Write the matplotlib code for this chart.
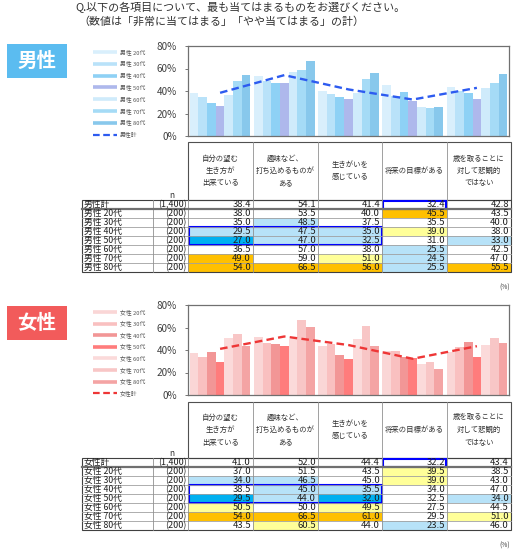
import numpy as np
import matplotlib
matplotlib.use("Agg")
import matplotlib.pyplot as plt
from matplotlib.patches import Rectangle

plt.rcParams['font.family'] = ['Noto Sans CJK JP', 'DejaVu Sans']

W, H = 517, 557

# ---------------------------------------------------------------------------
# data
# ---------------------------------------------------------------------------
items = ["自分の望む\n生き方が\n出来ている",
         "趣味など、\n打ち込めるものが\nある",
         "生きがいを\n感じている",
         "将来の目標がある",
         "歳を取ることに\n対して悲観的\nではない"]
ages = ["20代", "30代", "40代", "50代", "60代", "70代", "80代"]
n_total = "(1,400)"
n_age = "(200)"

male_total = [38.4, 54.1, 41.4, 32.4, 42.8]
male_ages = [[38.0, 53.5, 40.0, 45.5, 43.5],
             [35.0, 48.5, 37.5, 35.5, 40.0],
             [29.5, 47.5, 35.0, 39.0, 38.0],
             [27.0, 47.0, 32.5, 31.0, 33.0],
             [36.5, 57.0, 38.0, 25.5, 42.5],
             [49.0, 59.0, 51.0, 24.5, 47.0],
             [54.0, 66.5, 56.0, 25.5, 55.5]]

female_total = [41.0, 52.0, 44.4, 32.2, 43.4]
female_ages = [[37.0, 51.5, 43.5, 39.5, 38.5],
               [34.0, 46.5, 45.0, 39.0, 43.0],
               [38.5, 45.0, 35.5, 34.0, 47.0],
               [29.5, 44.0, 32.0, 32.5, 34.0],
               [50.5, 50.0, 49.5, 27.5, 44.5],
               [54.0, 66.5, 61.0, 29.5, 51.0],
               [43.5, 60.5, 44.0, 23.5, 46.0]]

# cell highlight codes: o=orange, y=yellow, b=light blue, B=strong blue
male_marks = ["-----", "---o-", "-b---", "bbby-", "Bbb-b", "---b-", "o-yb-", "ooobo"]
female_marks = ["-----", "---y-", "bb-y-", "-bb--", "BbB-b", "y-y--", "ooo-y", "-y-b-"]

fill = {"o": "#FFC000", "y": "#FFFF99", "b": "#B7E2F8", "B": "#00B0F0"}

male_colors = ["#D9EFFC", "#B9E2F9", "#8ED1F5", "#AEB8EC", "#CFEBFB", "#A5DBF6", "#88C8EC"]
female_colors = ["#FAD6D6", "#F9C0C0", "#F29696", "#FF7C7C", "#FBDADA", "#F8C6C6", "#F4A4A4"]

col_x = [82, 153, 188, 253, 318, 382, 447, 511]


def px_axes(fig, x0, y0, x1, y1):
    return fig.add_axes([x0 / W, 1 - y1 / H, (x1 - x0) / W, (y1 - y0) / H])


def draw_section(fig, ov, sex, box_color, total, by_age, colors, line_color,
                 marks, chart_top, chart_bot, head_top, rows_top, row_h,
                 box_y, leg_y0, leg_step, pct_y):
    # label box
    ov.add_patch(Rectangle((7, box_y), 60, 34, color=box_color, lw=0))
    ov.text(37, box_y + 17, sex, color="white", fontsize=14, fontweight="bold",
            ha="center", va="center")

    # legend
    for i, a in enumerate(ages):
        y = leg_y0 + i * leg_step
        ov.plot([93, 117], [y, y], color=colors[i], lw=2.6, solid_capstyle="butt")
        ov.text(120, y, sex + " " + a, fontsize=4.2, color="#555555", va="center")
    y = leg_y0 + 7 * leg_step
    ov.plot([93, 117], [y, y], color=line_color, lw=1.6, dashes=(3, 1.6))
    ov.text(120, y, sex + "計", fontsize=4.2, color="#555555", va="center")

    # bar chart
    ax = px_axes(fig, 188, chart_top, 509, chart_bot)
    x = np.arange(len(items))
    bw = 0.135
    for i in range(len(ages)):
        ax.bar(x + (i - 3) * bw, by_age[i], width=bw, color=colors[i], lw=0, zorder=2)
    ax.plot(x, total, color=line_color, lw=1.7, dashes=(3.2, 1.8), zorder=3)
    ax.set_xlim(-0.5, 4.5)
    ax.set_ylim(0, 80)
    ax.set_yticks([0, 20, 40, 60, 80])
    ax.set_yticklabels(["0%", "20%", "40%", "60%", "80%"], fontsize=7.2, color="#404040")
    ax.set_xticks([])
    ax.tick_params(axis="y", length=2, width=0.6, color="#606060", pad=6)
    for s in ax.spines.values():
        s.set_color("#707070")
        s.set_linewidth(0.9)

    # table header
    ov.add_patch(Rectangle((188, head_top), 511 - 188, rows_top - head_top,
                           fill=False, ec="#505050", lw=0.8))
    for c in range(len(items)):
        xc = (col_x[c + 2] + col_x[c + 3]) / 2
        ov.text(xc, (head_top + rows_top) / 2, items[c], fontsize=5.3,
                ha="center", va="center", linespacing=1.75, color="#303030")
        if c > 0:
            ov.plot([col_x[c + 2]] * 2, [head_top, rows_top], color="#909090", lw=0.6)
    ov.text(172, rows_top - 5, "n", fontsize=6, ha="center", va="center", color="#303030")

    # table body
    rows = [sex + "計"] + [sex + " " + a for a in ages]
    vals = [total] + by_age
    for r in range(len(rows)):
        y0 = rows_top + r * row_h
        for c in range(len(items)):
            code = marks[r][c]
            if code in fill:
                ov.add_patch(Rectangle((col_x[c + 2], y0), col_x[c + 3] - col_x[c + 2],
                                       row_h, color=fill[code], lw=0))
            ov.text(col_x[c + 3] - 2, y0 + row_h / 2 + 0.3, f"{vals[r][c]:.1f}",
                    fontsize=6.8, ha="right", va="center", color="#202020")
        ov.text(col_x[0] + 2, y0 + row_h / 2 + 0.3, rows[r], fontsize=6.3,
                ha="left", va="center", color="#202020")
        ov.text(col_x[2] - 1, y0 + row_h / 2 + 0.3, n_total if r == 0 else n_age,
                fontsize=6.5, ha="right", va="center", color="#202020")
        if r > 0:
            ov.plot([col_x[0], col_x[-1]], [y0, y0], color="#A0A0A0", lw=0.6)
    bot = rows_top + len(rows) * row_h
    for xv in col_x[1:-1]:
        ov.plot([xv, xv], [rows_top, bot], color="#909090", lw=0.6)
    ov.add_patch(Rectangle((col_x[0], rows_top), col_x[-1] - col_x[0], bot - rows_top,
                           fill=False, ec="#404040", lw=0.8))
    ov.plot([col_x[0], col_x[-1]], [rows_top + row_h, rows_top + row_h],
            color="#707070", lw=1.6)

    # blue frames
    ov.add_patch(Rectangle((col_x[5] + 1, rows_top + 0.5), col_x[6] - col_x[5] - 2,
                           row_h - 1, fill=False, ec="#0000FF", lw=1.5))
    ov.add_patch(Rectangle((col_x[2] + 1, rows_top + 3 * row_h), col_x[5] - col_x[2] - 1,
                           2 * row_h, fill=False, ec="#0000FF", lw=1.5))

    ov.text(510, pct_y, "(%)", fontsize=4.8, ha="right", va="center", color="#404040")


fig = plt.figure(figsize=(W / 100, H / 100), dpi=100)
ov = fig.add_axes([0, 0, 1, 1])
ov.set_xlim(0, W)
ov.set_ylim(H, 0)
ov.axis("off")

ov.text(75, 8, "Q.以下の各項目について、最も当てはまるものをお選びください。",
        fontsize=7.9, va="center", color="#303030")
ov.text(78, 22, "（数値は「非常に当てはまる」「やや当てはまる」の計）",
        fontsize=7.9, va="center", color="#303030")

draw_section(fig, ov, "男性", "#5BBCF0", male_total, male_ages, male_colors,
             "#2D5BF0", male_marks, 46, 136, 142, 200, 9.0, 44, 52, 11.8, 288)
draw_section(fig, ov, "女性", "#F25B5B", female_total, female_ages, female_colors,
             "#EE3636", female_marks, 305, 395, 402, 458, 9.0, 306, 312, 11.6, 546)

fig.savefig("out.png", dpi=100)
